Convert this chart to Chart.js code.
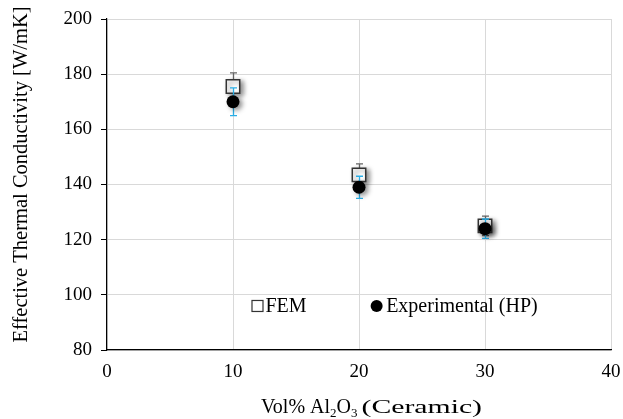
<!DOCTYPE html>
<html>
<head>
<meta charset="utf-8">
<script src="https://cdn.jsdelivr.net/npm/chart.js@4/dist/chart.umd.min.js"></script>
<style>
html,body{margin:0;padding:0;background:#fff;}
#wrap{width:623px;height:419px;position:relative;}
</style>
</head>
<body>
<div id="wrap"><canvas id="c" width="623" height="419"></canvas></div>
<script>
const volPct = [10, 20, 30];
const femValues = [175.5, 143.5, 125];
const femErrors = [5, 4, 3.5];
const expValues = [170, 139, 124];
const expErrors = [5, 4, 3.5];
const xTicks = [0, 10, 20, 30, 40];
const yTicks = [80, 100, 120, 140, 160, 180, 200];
const seriesNames = ['FEM', 'Experimental (HP)'];
const yTitle = 'Effective Thermal Conductivity [W/mK]';
const xTitleParts = ['Vol% Al', '2', 'O', '3', '(Ceramic)'];

const SERIF = '"Liberation Serif", "Times New Roman", serif';

function drawErrors(chart, values, errors, color) {
  const ctx = chart.ctx, xs = chart.scales.x, ys = chart.scales.y;
  ctx.save();
  ctx.strokeStyle = color;
  ctx.lineWidth = 1.3;
  for (let i = 0; i < values.length; i++) {
    const px = Math.round(xs.getPixelForValue(volPct[i])) + 0.5;
    const top = ys.getPixelForValue(values[i] + errors[i]);
    const bot = ys.getPixelForValue(values[i] - errors[i]);
    ctx.beginPath();
    ctx.moveTo(px, top); ctx.lineTo(px, bot);
    ctx.moveTo(px - 3.5, top); ctx.lineTo(px + 3.5, top);
    ctx.moveTo(px - 3.5, bot); ctx.lineTo(px + 3.5, bot);
    ctx.stroke();
  }
  ctx.restore();
}

const errorPlugin = {
  id: 'errs',
  beforeDatasetDraw(chart, args) {
    if (args.index === 0) drawErrors(chart, femValues, femErrors, '#666666');
    if (args.index === 1) drawErrors(chart, expValues, expErrors, '#2aaee6');
    const ctx = chart.ctx;
    ctx.save();
    ctx.shadowColor = 'rgba(0,0,0,0.45)';
    ctx.shadowBlur = 5;
    ctx.shadowOffsetX = 3;
    ctx.shadowOffsetY = 2;
  },
  afterDatasetDraw(chart) {
    chart.ctx.restore();
  },
  afterDraw(chart) {
    const ctx = chart.ctx, a = chart.chartArea;
    const w = a.right - a.left, h = a.bottom - a.top;
    ctx.save();
    // legend
    const ly = a.top + h * 0.867;
    const sx = a.left + w * 0.2986;
    ctx.fillStyle = '#fff';
    ctx.strokeStyle = '#333';
    ctx.lineWidth = 1.2;
    ctx.fillRect(sx - 5.5, ly - 5.5, 11, 11);
    ctx.strokeRect(sx - 5.5, ly - 5.5, 11, 11);
    ctx.fillStyle = '#000';
    ctx.font = '20px ' + SERIF;
    ctx.textBaseline = 'middle';
    ctx.textAlign = 'left';
    ctx.fillText(seriesNames[0], sx + 8, ly + 1);
    const cx = a.left + w * 0.535;
    ctx.beginPath();
    ctx.arc(cx, ly, 6, 0, Math.PI * 2);
    ctx.fill();
    ctx.fillText(seriesNames[1], cx + 9.5, ly + 1);

    // y axis title
    ctx.save();
    ctx.translate(27, (a.top + a.bottom) / 2 - 10);
    ctx.rotate(-Math.PI / 2);
    ctx.textAlign = 'center';
    ctx.textBaseline = 'alphabetic';
    ctx.font = '20.5px ' + SERIF;
    ctx.fillText(yTitle, 0, 0);
    ctx.restore();

    // x axis title with subscripts
    const styles = [[20, 0], [13, 4], [20, 0], [13, 4]];
    let x = 261;
    const base = 413;
    ctx.textBaseline = 'alphabetic';
    ctx.textAlign = 'left';
    for (let i = 0; i < 4; i++) {
      ctx.font = styles[i][0] + 'px ' + SERIF;
      ctx.fillText(xTitleParts[i], x, base + styles[i][1]);
      x += ctx.measureText(xTitleParts[i]).width;
    }
    // "(Ceramic)" in a wider face
    ctx.font = '19.5px ' + SERIF;
    const startX = x + 4;
    const mw = ctx.measureText(xTitleParts[4]).width;
    const sc = (482 - startX) / mw;
    ctx.save();
    ctx.translate(startX, base);
    ctx.scale(sc, 1);
    ctx.fillText(xTitleParts[4], 0, 0);
    ctx.restore();
    ctx.restore();
  }
};

new Chart(document.getElementById('c'), {
  type: 'scatter',
  data: {
    datasets: [
      {
        label: seriesNames[0],
        data: volPct.map((v, i) => ({x: v, y: femValues[i]})),
        pointStyle: 'rect',
        pointRadius: 9.5,
        backgroundColor: '#fff',
        borderColor: '#333',
        borderWidth: 1.5,
        order: 2
      },
      {
        label: seriesNames[1],
        data: volPct.map((v, i) => ({x: v, y: expValues[i]})),
        pointStyle: 'circle',
        pointRadius: 6.5,
        backgroundColor: '#000',
        borderColor: '#000',
        borderWidth: 0,
        order: 1
      }
    ]
  },
  options: {
    responsive: false,
    animation: false,
    events: [],
    layout: {padding: {top: 19, right: 12, left: 0, bottom: 0}},
    plugins: {legend: {display: false}, tooltip: {enabled: false}},
    scales: {
      x: {
        type: 'linear',
        min: xTicks[0], max: xTicks[xTicks.length - 1],
        afterBuildTicks(s) { s.ticks = xTicks.map(v => ({value: v})); },
        afterFit(s) { s.height = 69; s.paddingRight = 0; s.paddingLeft = 0; },
        grid: {color: '#d9d9d9', lineWidth: 1, drawTicks: false},
        border: {color: '#000', width: 1.2},
        ticks: {color: '#000', font: {family: SERIF, size: 19}, padding: 11, maxRotation: 0}
      },
      y: {
        type: 'linear',
        min: yTicks[0], max: yTicks[yTicks.length - 1],
        afterBuildTicks(s) { s.ticks = yTicks.map(v => ({value: v})); },
        afterFit(s) { s.width = 107; s.paddingTop = 0; s.paddingBottom = 0; },
        grid: {color: '#d9d9d9', lineWidth: 1, tickLength: 6, tickColor: '#000'},
        border: {color: '#000', width: 1.2},
        ticks: {color: '#000', font: {family: SERIF, size: 19}, padding: 9}
      }
    }
  },
  plugins: [errorPlugin]
});
</script>
</body>
</html>
